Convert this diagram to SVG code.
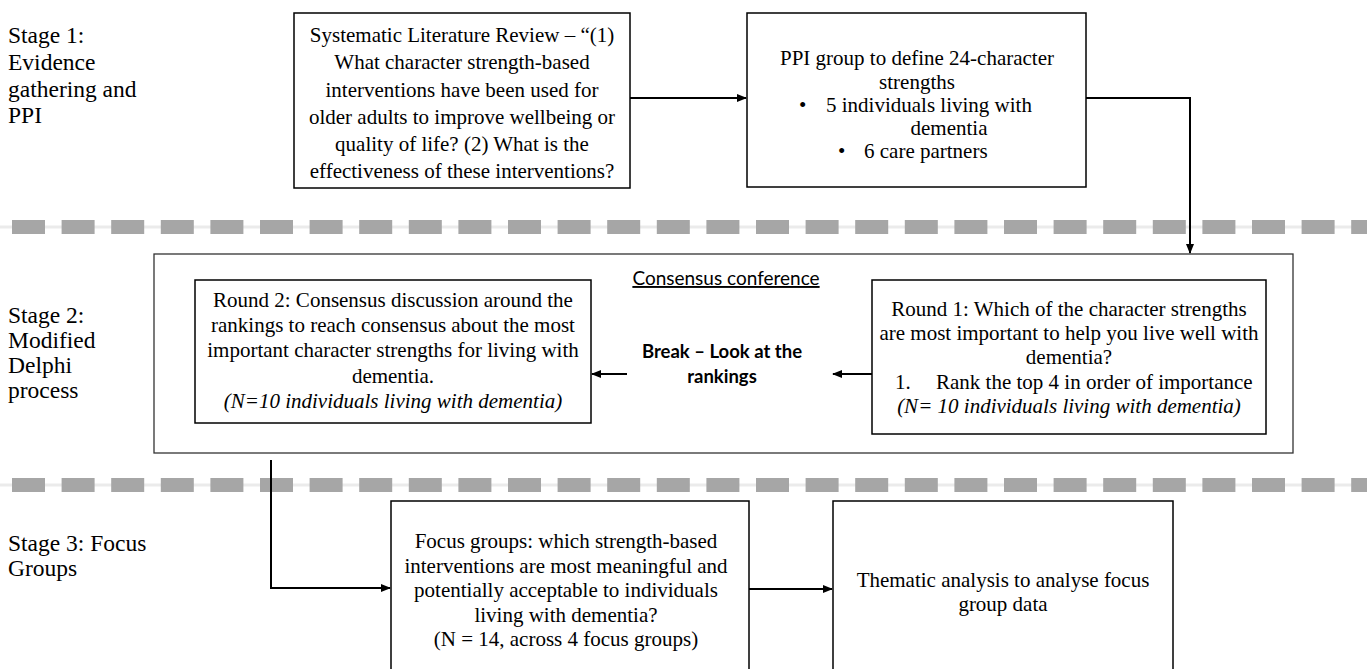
<svg xmlns="http://www.w3.org/2000/svg" width="1367" height="669" viewBox="0 0 1367 669">
<style>
.t{font-family:"Liberation Serif","Times New Roman",serif;font-size:21px;fill:#000}
.lab{font-family:"Liberation Serif","Times New Roman",serif;font-size:23.5px;fill:#000}
.c{text-anchor:middle}
.i{font-style:italic}
.box{fill:#fff;stroke:#000;stroke-width:1.5}
.big{fill:none;stroke:#333;stroke-width:1.3}
.s{font-family:Lato,"Liberation Sans",sans-serif;fill:#000;text-anchor:middle}
.conn{fill:none;stroke:#000;stroke-width:2}
.dash{stroke:#a6a6a6;stroke-width:14;stroke-dasharray:33 16.6}
.rail{stroke:#ebebeb;stroke-width:3}
</style>
<defs>
<marker id="ah" markerUnits="userSpaceOnUse" markerWidth="10" markerHeight="8" refX="9" refY="4" orient="auto">
<path d="M0,0 L10,4 L0,8 z" fill="#000"/>
</marker>
</defs>
<rect width="1367" height="669" fill="#fff"/>

<g id="separators">
<line class="rail" x1="0" y1="227" x2="1367" y2="227"/>
<line class="dash" x1="12" y1="227" x2="1367" y2="227"/>
<line class="rail" x1="0" y1="485" x2="1367" y2="485"/>
<line class="dash" x1="12" y1="485" x2="1367" y2="485"/>
</g>

<g id="stage-labels">
<text class="lab" x="8" y="43">Stage 1:</text>
<text class="lab" x="8" y="70">Evidence</text>
<text class="lab" x="8" y="97">gathering and</text>
<text class="lab" x="8" y="123">PPI</text>
<text class="lab" x="8" y="323">Stage 2:</text>
<text class="lab" x="8" y="348">Modified</text>
<text class="lab" x="8" y="373">Delphi</text>
<text class="lab" x="8" y="398">process</text>
<text class="lab" x="8" y="551">Stage 3: Focus</text>
<text class="lab" x="8" y="576">Groups</text>
</g>

<g id="slr">
<rect class="box" x="294" y="13" width="336" height="175"/>
<text class="t c" x="462" y="42">Systematic Literature Review – “(1)</text>
<text class="t c" x="462" y="69">What character strength-based</text>
<text class="t c" x="462" y="97">interventions have been used for</text>
<text class="t c" x="462" y="124">older adults to improve wellbeing or</text>
<text class="t c" x="462" y="151">quality of life? (2) What is the</text>
<text class="t c" x="462" y="178">effectiveness of these interventions?</text>
</g>

<g id="ppi">
<rect class="box" x="747" y="13" width="339" height="174"/>
<text class="t c" x="917" y="65">PPI group to define 24-character</text>
<text class="t c" x="917" y="89">strengths</text>
<text class="t" x="799" y="112">•</text>
<text class="t" x="826" y="112">5 individuals living with</text>
<text class="t c" x="949" y="135">dementia</text>
<text class="t" x="838" y="158">•</text>
<text class="t" x="864" y="158">6 care partners</text>
</g>

<g id="consensus">
<rect class="big" x="154" y="254" width="1139" height="199"/>
<text class="s" x="726" y="285" font-size="19" text-decoration="underline">Consensus conference</text>
</g>

<g id="round2">
<rect class="box" x="195" y="280" width="396" height="143"/>
<text class="t c" x="393" y="307">Round 2: Consensus discussion around the</text>
<text class="t c" x="393" y="332">rankings to reach consensus about the most</text>
<text class="t c" x="393" y="357">important character strengths for living with</text>
<text class="t c" x="393" y="383">dementia.</text>
<text class="t c i" x="393" y="408">(N=10 individuals living with dementia)</text>
</g>

<g id="break">
<text class="s" x="722" y="358" font-size="18.5" font-weight="bold">Break – Look at the</text>
<text class="s" x="722" y="383" font-size="18.5" font-weight="bold">rankings</text>
</g>

<g id="round1">
<rect class="box" x="872" y="280" width="394" height="154"/>
<text class="t c" x="1069" y="316">Round 1: Which of the character strengths</text>
<text class="t c" x="1069" y="340">are most important to help you live well with</text>
<text class="t c" x="1069" y="364">dementia?</text>
<text class="t" x="895" y="389">1.</text>
<text class="t" x="936" y="389">Rank the top 4 in order of importance</text>
<text class="t c i" x="1069" y="413">(N= 10 individuals living with dementia)</text>
</g>

<g id="focus">
<rect class="box" x="391" y="501" width="358" height="190"/>
<text class="t c" x="566" y="548">Focus groups: which strength-based</text>
<text class="t c" x="566" y="573">interventions are most meaningful and</text>
<text class="t c" x="566" y="597">potentially acceptable to individuals</text>
<text class="t c" x="566" y="622">living with dementia?</text>
<text class="t c" x="566" y="646">(N = 14, across 4 focus groups)</text>
</g>

<g id="thematic">
<rect class="box" x="833" y="501" width="340" height="190"/>
<text class="t c" x="1003" y="587">Thematic analysis to analyse focus</text>
<text class="t c" x="1003" y="611">group data</text>
</g>

<g id="connectors">
<path class="conn" d="M630,98 H746" marker-end="url(#ah)"/>
<path class="conn" d="M1086,98 H1190 V253" marker-end="url(#ah)"/>
<path class="conn" d="M872,374 H833" marker-end="url(#ah)"/>
<path class="conn" d="M627,374 H592" marker-end="url(#ah)"/>
<path class="conn" d="M271,460 V588 H390" marker-end="url(#ah)"/>
<path class="conn" d="M749,589 H832" marker-end="url(#ah)"/>
</g>
</svg>
